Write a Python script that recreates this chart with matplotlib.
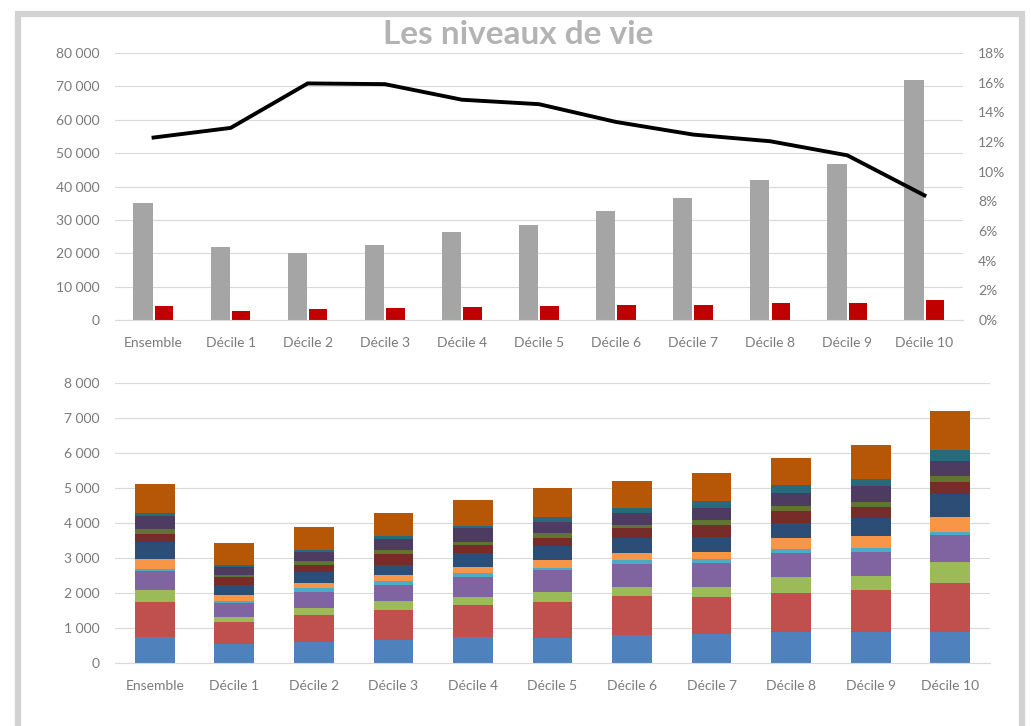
import numpy as np
import matplotlib.pyplot as plt
from matplotlib.patches import Rectangle

plt.rcParams['font.family'] = ['Lato', 'DejaVu Sans']

categories = ['Ensemble', 'Décile 1', 'Décile 2', 'Décile 3', 'Décile 4', 'Décile 5',
              'Décile 6', 'Décile 7', 'Décile 8', 'Décile 9', 'Décile 10']

# graphique du haut
revenu = [35000, 22000, 20000, 22500, 26300, 28500, 32700, 36500, 41900, 46700, 72000]
impots = [4200, 2800, 3300, 3600, 3900, 4200, 4500, 4600, 5100, 5200, 6000]
taux = [12.3, 12.95, 15.95, 15.9, 14.85, 14.55, 13.35, 12.5, 12.05, 11.1, 8.4]

# graphique du bas : postes empilés (du bas vers le haut)
postes = {
    'Poste 1':  [750, 550, 610, 660, 750, 705, 800, 830, 895, 895, 895],
    'Poste 2':  [1000, 620, 760, 860, 905, 1047, 1114, 1066, 1115, 1191, 1400],
    'Poste 3':  [330, 140, 190, 240, 240, 286, 267, 286, 457, 400, 600],
    'Poste 4':  [550, 410, 480, 480, 570, 620, 648, 667, 685, 695, 762],
    'Poste 5':  [70, 50, 95, 95, 115, 67, 114, 114, 96, 95, 95],
    'Poste 6':  [270, 160, 160, 190, 170, 220, 190, 219, 314, 353, 429],
    'Poste 7':  [480, 290, 315, 286, 380, 400, 429, 429, 428, 504, 648],
    'Poste 8':  [240, 240, 190, 314, 240, 220, 286, 333, 353, 334, 352],
    'Poste 9':  [140, 60, 120, 115, 95, 143, 95, 143, 143, 143, 162],
    'Poste 10': [380, 220, 250, 314, 380, 333, 352, 333, 362, 447, 438],
    'Poste 11': [70, 60, 55, 67, 65, 143, 124, 219, 238, 191, 305],
    'Poste 12': [830, 640, 670, 666, 760, 810, 790, 781, 762, 981, 1124],
}
couleurs = ['#4f81bd', '#c0504d', '#9bbb59', '#8064a2', '#4bacc6', '#f79646',
            '#2c4d75', '#772c2a', '#5f7530', '#4d3b62', '#276a7c', '#b65708']

def fmt_milliers(v, pos=None):
    return f'{int(v):,}'.replace(',', ' ')

txt = '#7a7a7a'
grille = '#d9d9d9'
x = np.arange(len(categories))

fig = plt.figure(figsize=(10.31, 7.26), dpi=100)
# cadre gris (pas de bord en bas)
fig.patches.append(Rectangle((18 / 1031, -0.05), 1004 / 1031, 1.05 - 14 / 726,
                             transform=fig.transFigure, fill=False,
                             edgecolor='#d2d2d2', lw=4.5))

fig.text(518 / 1031, 1 - 35 / 726, 'Les niveaux de vie', ha='center', va='center',
         fontsize=24, fontweight='bold', color='#b3b3b3')

# --- haut
ax1 = fig.add_axes([115 / 1031, 1 - 320 / 726, 848 / 1031, 267 / 726])
ax1.bar(x - 0.136, revenu, width=0.25, color='#a5a5a5', zorder=2)
ax1.bar(x + 0.136, impots, width=0.24, color='#c00000', zorder=2)
ax1.set_xlim(-0.5, 10.5)
ax1.set_ylim(0, 80000)
ax1.set_yticks(np.arange(0, 80001, 10000))
ax1.yaxis.set_major_formatter(fmt_milliers)
ax1.set_xticks(x, categories)
ax1.grid(axis='y', color=grille, lw=0.8, zorder=0)
ax1.set_axisbelow(True)

ax2 = ax1.twinx()
ax2.plot(x, taux, color='black', lw=2.8, zorder=3)
ax2.set_ylim(0, 18)
ax2.set_yticks(np.arange(0, 19, 2))
ax2.set_yticklabels([f'{v}%' for v in range(0, 19, 2)])

# --- bas
ax3 = fig.add_axes([115 / 1031, 1 - 663 / 726, 875 / 1031, 280 / 726])
bas = np.zeros(len(categories))
for (nom, vals), c in zip(postes.items(), couleurs):
    ax3.bar(x, vals, bottom=bas, width=0.5, color=c, label=nom, zorder=2)
    bas += np.array(vals)
ax3.set_xlim(-0.5, 10.5)
ax3.set_ylim(0, 8000)
ax3.set_yticks(np.arange(0, 8001, 1000))
ax3.yaxis.set_major_formatter(fmt_milliers)
ax3.set_xticks(x, categories)
ax3.grid(axis='y', color=grille, lw=0.8, zorder=0)
ax3.set_axisbelow(True)

for ax in (ax1, ax2, ax3):
    for s in ax.spines.values():
        s.set_visible(False)
    ax.tick_params(length=0, labelsize=10, labelcolor=txt)
for ax in (ax1, ax3):
    ax.spines['bottom'].set_visible(True)
    ax.spines['bottom'].set_color(grille)
    ax.tick_params(axis='y', pad=11)
    ax.tick_params(axis='x', pad=12)
ax2.tick_params(axis='y', pad=11)

fig.savefig('out.png', dpi=100)
